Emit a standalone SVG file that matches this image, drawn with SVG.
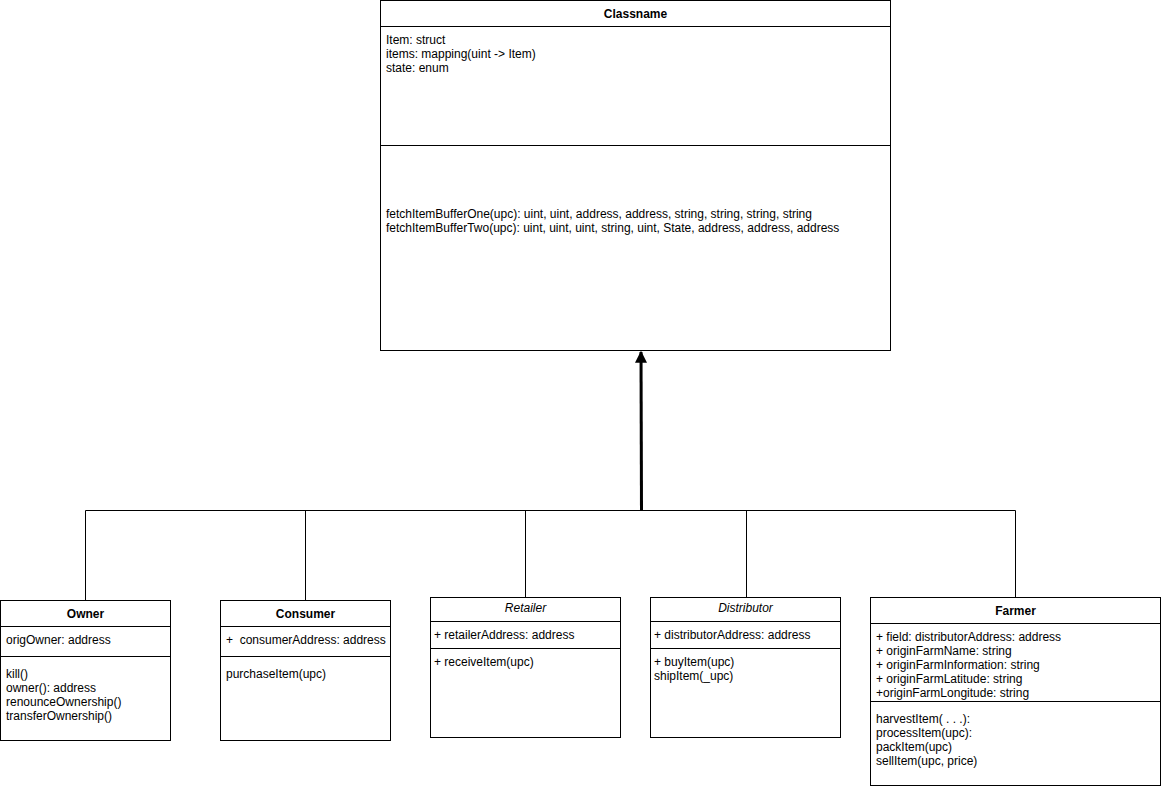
<svg xmlns="http://www.w3.org/2000/svg" width="1161" height="789" viewBox="0 0 1161 789">
<style>
.box{fill:#fff;stroke:#000;stroke-width:1}
.ln{stroke:#000;stroke-width:1;fill:none}
text{font-family:"Liberation Sans",Arial,sans-serif;font-size:12px;fill:#000}
.t{font-weight:bold;text-anchor:middle}
.i{font-style:italic;text-anchor:middle}
</style>
<defs>
<marker id="arr" viewBox="0 0 10 10" refX="9" refY="5" markerWidth="4" markerHeight="4" orient="auto">
<path d="M0,0 L10,5 L0,10 z" fill="#000"/>
</marker>
</defs>
<rect width="1161" height="789" fill="#fff"/>
<g id="connectors">
<path class="ln" d="M85.5,600 V510.5 H1015.5 V597"/>
<path class="ln" d="M305.5,510.5 V600"/>
<path class="ln" d="M525.5,510.5 V597"/>
<path class="ln" d="M746.5,510.5 V597"/>
<path d="M641.5,510 L641,352" stroke="#000" stroke-width="3" fill="none" marker-end="url(#arr)"/>
</g>
<g id="Classname">
<rect class="box" x="380.5" y="0.5" width="510" height="350"/>
<line class="ln" x1="380.5" y1="26.5" x2="890.5" y2="26.5"/>
<line class="ln" x1="380.5" y1="145.5" x2="890.5" y2="145.5"/>
<text class="t" x="635.5" y="18">Classname</text>
<text x="386" y="44">Item: struct</text>
<text x="386" y="58">items: mapping(uint -&gt; Item)</text>
<text x="386" y="72">state: enum</text>
<text x="386" y="218">fetchItemBufferOne(upc): uint, uint, address, address, string, string, string, string</text>
<text x="386" y="232">fetchItemBufferTwo(upc): uint, uint, uint, string, uint, State, address, address, address</text>
</g>
<g id="Owner">
<rect class="box" x="0.5" y="600.5" width="170" height="140"/>
<line class="ln" x1="0.5" y1="626.5" x2="170.5" y2="626.5"/>
<line class="ln" x1="0.5" y1="656.5" x2="170.5" y2="656.5"/>
<text class="t" x="85.5" y="618">Owner</text>
<text x="6" y="644">origOwner: address</text>
<text x="6" y="678">kill()</text>
<text x="6" y="692">owner(): address</text>
<text x="6" y="706">renounceOwnership()</text>
<text x="6" y="720">transferOwnership()</text>
</g>
<g id="Consumer">
<rect class="box" x="220.5" y="600.5" width="170" height="140"/>
<line class="ln" x1="220.5" y1="626.5" x2="390.5" y2="626.5"/>
<line class="ln" x1="220.5" y1="656.5" x2="390.5" y2="656.5"/>
<text class="t" x="305.5" y="618">Consumer</text>
<text x="226" y="644" xml:space="preserve">+  consumerAddress: address</text>
<text x="226" y="678">purchaseItem(upc)</text>
</g>
<g id="Retailer">
<rect class="box" x="430.5" y="597.5" width="190" height="140"/>
<line class="ln" x1="430.5" y1="621.5" x2="620.5" y2="621.5"/>
<line class="ln" x1="430.5" y1="648.5" x2="620.5" y2="648.5"/>
<text class="i" x="525.5" y="612">Retailer</text>
<text x="434" y="639">+ retailerAddress: address</text>
<text x="434" y="666">+ receiveItem(upc)</text>
</g>
<g id="Distributor">
<rect class="box" x="650.5" y="597.5" width="190" height="140"/>
<line class="ln" x1="650.5" y1="621.5" x2="840.5" y2="621.5"/>
<line class="ln" x1="650.5" y1="648.5" x2="840.5" y2="648.5"/>
<text class="i" x="745.5" y="612">Distributor</text>
<text x="654" y="639">+ distributorAddress: address</text>
<text x="654" y="666">+ buyItem(upc)</text>
<text x="654" y="680">shipItem(_upc)</text>
</g>
<g id="Farmer">
<rect class="box" x="870.5" y="597.5" width="290" height="188"/>
<line class="ln" x1="870.5" y1="623.5" x2="1160.5" y2="623.5"/>
<line class="ln" x1="870.5" y1="701.5" x2="1160.5" y2="701.5"/>
<text class="t" x="1015.5" y="615">Farmer</text>
<text x="876" y="641">+ field: distributorAddress: address</text>
<text x="876" y="655">+ originFarmName: string</text>
<text x="876" y="669">+ originFarmInformation: string</text>
<text x="876" y="683">+ originFarmLatitude: string</text>
<text x="876" y="697">+originFarmLongitude: string</text>
<text x="876" y="723">harvestItem( . . .):</text>
<text x="876" y="737">processItem(upc):</text>
<text x="876" y="751">packItem(upc)</text>
<text x="876" y="765">sellItem(upc, price)</text>
</g>
</svg>
